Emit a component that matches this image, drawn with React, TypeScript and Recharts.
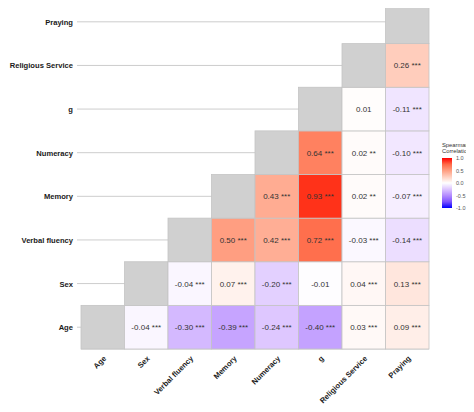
import { ScatterChart, Scatter, XAxis, YAxis, CartesianGrid } from 'recharts';

// variables, in axis order (Age at bottom / left)
const VARS = ['Age', 'Sex', 'Verbal fluency', 'Memory', 'Numeracy', 'g', 'Religious Service', 'Praying'];

// Spearman correlations of each row variable with the variables to its right
const AGE_R = [-0.04, -0.3, -0.39, -0.24, -0.4, 0.03, 0.09];
const SEX_R = [-0.04, 0.07, -0.2, -0.01, 0.04, 0.13];
const VERBAL_R = [0.5, 0.42, 0.72, -0.03, -0.14];
const MEMORY_R = [0.43, 0.93, 0.02, -0.07];
const NUMERACY_R = [0.64, 0.02, -0.1];
const G_R = [0.01, -0.11];
const RELIGIOUS_R = [0.26];

// significance stars, same layout
const AGE_SIG = ['***', '***', '***', '***', '***', '***', '***'];
const SEX_SIG = ['***', '***', '***', '', '***', '***'];
const VERBAL_SIG = ['***', '***', '***', '***', '***'];
const MEMORY_SIG = ['***', '***', '**', '***'];
const NUMERACY_SIG = ['***', '**', '***'];
const G_SIG = ['', '***'];
const RELIGIOUS_SIG = ['***'];

const LEGEND_TICKS = [1.0, 0.5, 0.0, -0.5, -1.0];

const ROWS_R = [AGE_R, SEX_R, VERBAL_R, MEMORY_R, NUMERACY_R, G_R, RELIGIOUS_R];
const ROWS_SIG = [AGE_SIG, SEX_SIG, VERBAL_SIG, MEMORY_SIG, NUMERACY_SIG, G_SIG, RELIGIOUS_SIG];

const W = 474;
const H = 412;
const Y_AXIS_W = 81;
const RIGHT_W = 45;
const X_AXIS_H = 63;
const N = VARS.length;
const CELL_W = (W - Y_AXIS_W - RIGHT_W) / N;
const CELL_H = (H - X_AXIS_H) / N;
const FONT = '"Liberation Sans", Arial, Helvetica, sans-serif';
const GRID = '#cdcdcd';
const LABEL_SIZE = 7.6;

// --- colour scale: blue - white - red, interpolated in Lab like ggplot ---
function toLin(c: number) {
  c /= 255;
  return c <= 0.04045 ? c / 12.92 : Math.pow((c + 0.055) / 1.055, 2.4);
}
function fromLin(c: number) {
  const v = c <= 0.0031308 ? 12.92 * c : 1.055 * Math.pow(c, 1 / 2.4) - 0.055;
  return Math.max(0, Math.min(255, Math.round(v * 255)));
}
const WX = 0.95047, WY = 1, WZ = 1.08883;
function rgbToLab([r, g, b]: number[]) {
  const R = toLin(r), G = toLin(g), B = toLin(b);
  const x = (R * 0.4124 + G * 0.3576 + B * 0.1805) / WX;
  const y = (R * 0.2126 + G * 0.7152 + B * 0.0722) / WY;
  const z = (R * 0.0193 + G * 0.1192 + B * 0.9505) / WZ;
  const f = (t: number) => (t > 0.008856 ? Math.cbrt(t) : 7.787 * t + 16 / 116);
  return [116 * f(y) - 16, 500 * (f(x) - f(y)), 200 * (f(y) - f(z))];
}
function labToRgb([L, a, b]: number[]) {
  const fy = (L + 16) / 116;
  const fx = fy + a / 500;
  const fz = fy - b / 200;
  const inv = (t: number) => (t * t * t > 0.008856 ? t * t * t : (t - 16 / 116) / 7.787);
  const x = inv(fx) * WX, y = inv(fy) * WY, z = inv(fz) * WZ;
  const R = x * 3.2406 + y * -1.5372 + z * -0.4986;
  const G = x * -0.9689 + y * 1.8758 + z * 0.0415;
  const B = x * 0.0557 + y * -0.204 + z * 1.057;
  return `rgb(${fromLin(R)},${fromLin(G)},${fromLin(B)})`;
}
const LAB_WHITE = rgbToLab([255, 255, 255]);
const LAB_RED = rgbToLab([255, 0, 0]);
const LAB_BLUE = rgbToLab([0, 0, 255]);
function corrColor(v: number) {
  const end = v >= 0 ? LAB_RED : LAB_BLUE;
  const t = Math.min(1, Math.abs(v));
  return labToRgb(LAB_WHITE.map((w, i) => w + (end[i] - w) * t));
}

// build the tiles
const cells: { x: number; y: number; value: number | null; label: string }[] = [];
VARS.forEach((_, i) => {
  cells.push({ x: i + 1, y: i + 1, value: null, label: '' });
  ROWS_R[i]?.forEach((r, k) => {
    const sig = ROWS_SIG[i][k];
    cells.push({ x: i + k + 2, y: i + 1, value: r, label: r.toFixed(2) + (sig ? ' ' + sig : '') });
  });
});

const TICKS = VARS.map((_, i) => i + 1);

function Tile(props: any) {
  const { cx, cy, payload } = props;
  const fill = payload.value === null ? '#d0d0d0' : corrColor(payload.value);
  return (
    <g>
      <rect
        x={cx - CELL_W / 2}
        y={cy - CELL_H / 2}
        width={CELL_W}
        height={CELL_H}
        fill={fill}
        stroke="#c4c4c4"
        strokeWidth={0.8}
      />
      {payload.label && (
        <text
          x={cx}
          y={cy + 3}
          textAnchor="middle"
          fontSize={8}
          fontFamily={FONT}
          fill="#333"
        >
          {payload.label}
        </text>
      )}
    </g>
  );
}

function RowTick({ x, y, payload }: any) {
  return (
    <text x={x} y={y + 3} textAnchor="end" fontSize={LABEL_SIZE} fontWeight="bold" fontFamily={FONT} fill="#1a1a1a">
      {VARS[payload.value - 1]}
    </text>
  );
}

function ColTick({ x, y, payload }: any) {
  const ax = x + 4;
  const ay = y + 2;
  return (
    <text
      x={ax}
      y={ay}
      textAnchor="end"
      fontSize={LABEL_SIZE}
      fontWeight="bold"
      fontFamily={FONT}
      fill="#1a1a1a"
      transform={`rotate(-45, ${ax}, ${ay})`}
    >
      {VARS[payload.value - 1]}
    </text>
  );
}

function ColorLegend() {
  const barX = 442, barY = 158, barW = 10, barH = 50;
  return (
    <svg width={W} height={H} style={{ position: 'absolute', left: 0, top: 0, pointerEvents: 'none' }}>
      <defs>
        <linearGradient id="corrGrad" x1="0" y1="0" x2="0" y2="1">
          {[1, 0.75, 0.5, 0.25, 0, -0.25, -0.5, -0.75, -1].map((v) => (
            <stop key={v} offset={`${((1 - v) / 2) * 100}%`} stopColor={corrColor(v)} />
          ))}
        </linearGradient>
      </defs>
      <text x={barX} y={147} fontSize={5.8} fontFamily={FONT} fill="#333">Spearman</text>
      <text x={barX} y={153} fontSize={5.8} fontFamily={FONT} fill="#333">Correlations</text>
      <rect x={barX} y={barY} width={barW} height={barH} fill="url(#corrGrad)" />
      {LEGEND_TICKS.map((v) => (
        <text
          key={v}
          x={barX + 14}
          y={barY + ((1 - v) / 2) * barH + 2}
          fontSize={5.5}
          fontFamily={FONT}
          fill="#555"
        >
          {v.toFixed(1)}
        </text>
      ))}
    </svg>
  );
}

export default function App() {
  return (
    <div style={{ position: 'relative', width: W, height: H, margin: -8, background: '#fff' }}>
      <ScatterChart width={W} height={H} margin={{ top: 0, right: 0, bottom: 0, left: 0 }}>
        <CartesianGrid yAxisId="left" vertical={false} stroke={GRID} strokeWidth={1} />
        <XAxis
          type="number"
          dataKey="x"
          domain={[0.5, N + 0.5]}
          ticks={TICKS}
          interval={0}
          height={X_AXIS_H}
          axisLine={false}
          tickLine={false}
          tick={<ColTick />}
        />
        <YAxis
          yAxisId="left"
          type="number"
          dataKey="y"
          domain={[0.5, N + 0.5]}
          ticks={TICKS}
          interval={0}
          width={Y_AXIS_W}
          axisLine={false}
          tickLine={{ stroke: GRID }}
          tickSize={4}
          tickMargin={4}
          tick={<RowTick />}
        />
        <YAxis
          yAxisId="right"
          orientation="right"
          type="number"
          dataKey="y"
          domain={[0.5, N + 0.5]}
          ticks={TICKS}
          interval={0}
          width={RIGHT_W}
          axisLine={false}
          tickLine={{ stroke: GRID }}
          tickSize={3}
          tick={() => <g />}
        />
        <Scatter yAxisId="left" data={cells} shape={<Tile />} isAnimationActive={false} />
      </ScatterChart>
      <ColorLegend />
    </div>
  );
}
